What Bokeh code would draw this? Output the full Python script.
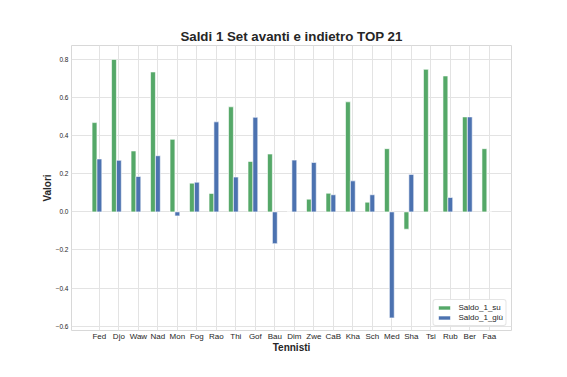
from bokeh.plotting import figure
from bokeh.models import FixedTicker, Legend, LegendItem, ColumnDataSource
from bokeh.embed import file_html
from bokeh.resources import INLINE

players = ["Fed", "Djo", "Waw", "Nad", "Mon", "Fog", "Rao", "Thi", "Gof", "Bau", "Dim",
           "Zwe", "CaB", "Kha", "Sch", "Med", "Sha", "Tsi", "Rub", "Ber", "Faa"]
saldo_su = [0.469, 0.801, 0.320, 0.735, 0.381, 0.151, 0.097, 0.552, 0.265, 0.304, 0.0,
            0.067, 0.098, 0.578, 0.051, 0.332, -0.091, 0.749, 0.714, 0.499, 0.332]
saldo_giu = [0.278, 0.271, 0.186, 0.295, -0.021, 0.156, 0.473, 0.183, 0.497, -0.167, 0.272,
             0.260, 0.090, 0.163, 0.090, -0.557, 0.197, 0.0, 0.076, 0.499, 0.0]
y_ticks = [-0.6, -0.4, -0.2, 0.0, 0.2, 0.4, 0.6, 0.8]

FONT = "Liberation Sans"
GREEN = "#55a868"
BLUE = "#4c72b0"

idx = list(range(len(players)))
src = ColumnDataSource(dict(
    xg=[i - 0.25 for i in idx], xb=idx, su=saldo_su, giu=saldo_giu))

p = figure(width=559, height=369, output_backend="svg", toolbar_location=None,
           x_range=(-1.43, 21.14), y_range=(-0.623, 0.874),
           min_border_left=71, min_border_right=48, min_border_top=45, min_border_bottom=39)

p.title.text = "Saldi 1 Set avanti e indietro TOP 21"
p.title.align = "center"
p.title.text_font = FONT
p.title.text_font_size = "13.3px"
p.title.text_font_style = "bold"
p.title.text_color = "#262626"
p.title.offset = 0
p.title.standoff = 3

rg = p.vbar(x="xg", top="su", bottom=0, width=0.25, source=src, fill_color=GREEN,
            line_color="white", line_width=0.6)
rb = p.vbar(x="xb", top="giu", bottom=0, width=0.25, source=src, fill_color=BLUE,
            line_color="white", line_width=0.6)

p.xaxis.ticker = FixedTicker(ticks=idx)
p.xaxis.major_label_overrides = {i: n for i, n in enumerate(players)}
p.yaxis.ticker = FixedTicker(ticks=y_ticks)
p.yaxis.major_label_overrides = {v: (f"{v:.1f}".replace("-", "\u2212")) for v in y_ticks}

for ax in (p.xaxis[0], p.yaxis[0]):
    ax.axis_line_color = None
    ax.major_tick_line_color = None
    ax.minor_tick_line_color = None
    ax.major_tick_out = 0
    ax.major_tick_in = 0
    ax.minor_tick_out = 0
    ax.minor_tick_in = 0
    ax.major_label_text_font = FONT
    ax.major_label_text_color = "#262626"
    ax.axis_label_text_font = FONT
    ax.axis_label_text_font_style = "bold"
    ax.axis_label_text_color = "#262626"
    ax.axis_label_text_font_size = "10px"

p.xaxis.major_label_text_font_size = "8px"
p.yaxis.major_label_text_font_size = "6.5px"
p.xaxis.major_label_standoff = 1
p.yaxis.major_label_standoff = 3
p.xaxis.axis_label = "Tennisti"
p.yaxis.axis_label = "Valori"
p.xaxis.axis_label_standoff = -2
p.yaxis.axis_label_standoff = 0

p.xgrid.grid_line_color = "#e3e3e3"
p.ygrid.grid_line_color = "#e3e3e3"
p.outline_line_color = "#d8d8d8"
p.background_fill_color = "white"
p.border_fill_color = "white"

legend = Legend(items=[LegendItem(label="Saldo_1_su", renderers=[rg]),
                       LegendItem(label="Saldo_1_giù", renderers=[rb])],
                location="bottom_right")
legend.label_text_font = FONT
legend.label_text_font_size = "8px"
legend.label_text_color = "#262626"
legend.glyph_width = 15
legend.glyph_height = 5
legend.label_height = 8
legend.label_standoff = 7
legend.spacing = 1
legend.padding = 3
legend.margin = 4
legend.border_line_color = "#cccccc"
legend.border_radius = 3
legend.background_fill_alpha = 0.9
p.add_layout(legend)

open("out.html", "w").write(file_html(p, INLINE))
